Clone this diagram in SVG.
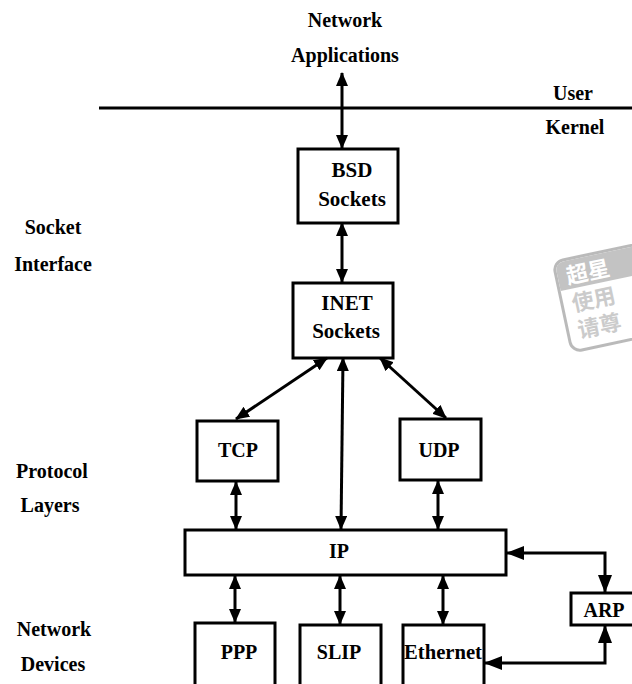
<svg xmlns="http://www.w3.org/2000/svg" width="632" height="684" viewBox="0 0 632 684">
<style>
text{font-family:"Liberation Serif","Times New Roman",serif;font-weight:bold;font-size:20px;fill:#000;text-anchor:middle}
.box{fill:#fff;stroke:#000;stroke-width:3}
.con{fill:none;stroke:#000;stroke-width:3;marker-start:url(#ah);marker-end:url(#ah)}
.con2{fill:none;stroke:#000;stroke-width:3;marker-start:url(#ahb);marker-end:url(#ahb)}
.wm{font-family:"Noto Sans CJK SC",sans-serif;font-weight:bold;font-size:22px;text-anchor:start}
</style>
<defs>
<marker id="ah" viewBox="0 0 14 12" refX="13" refY="6" markerWidth="14" markerHeight="12" markerUnits="userSpaceOnUse" orient="auto-start-reverse">
<path d="M0,0 L14,6 L0,12 z" fill="#000"/>
</marker>
<marker id="ahb" viewBox="0 0 18 14" refX="17" refY="7" markerWidth="18" markerHeight="14" markerUnits="userSpaceOnUse" orient="auto-start-reverse">
<path d="M0,0 L18,7 L0,14 z" fill="#000"/>
</marker>
</defs>
<rect width="632" height="684" fill="#fff"/>
<g id="watermark" opacity="0.5">
<g transform="translate(553,262) rotate(-12)">
<rect x="0" y="0" width="130" height="92" rx="10" fill="#fff" stroke="#777" stroke-width="3"/>
<path d="M1.5,11 Q1.5,1.5 11,1.5 H130 V30 H1.5 z" fill="#888"/>
<text x="10" y="25" class="wm" style="fill:#fff">超星</text>
<text x="10" y="53" class="wm" style="fill:#999">使用</text>
<text x="10" y="80" class="wm" style="fill:#999">请尊</text>
</g>
</g>
<g id="user-kernel">
<line x1="99" y1="108" x2="632" y2="108" stroke="#000" stroke-width="3"/>
<text x="573" y="100">User</text>
<text x="575" y="134">Kernel</text>
</g>
<g id="labels">
<text x="53" y="234">Socket</text>
<text x="53" y="271">Interface</text>
<text x="52" y="478">Protocol</text>
<text x="50" y="512">Layers</text>
<text x="54" y="636">Network</text>
<text x="53" y="671">Devices</text>
</g>
<g id="apps">
<text x="345" y="27">Network</text>
<text x="345" y="62">Applications</text>
</g>
<g id="bsd">
<rect class="box" x="298" y="149" width="100" height="74"/>
<text x="352" y="177" style="font-size:21px">BSD</text>
<text x="352" y="206" style="font-size:21px">Sockets</text>
</g>
<g id="inet">
<rect class="box" x="293" y="283" width="100" height="75"/>
<text x="347" y="310" style="font-size:21px">INET</text>
<text x="346" y="338" style="font-size:21px">Sockets</text>
</g>
<g id="tcp">
<rect class="box" x="197" y="421" width="81" height="60"/>
<text x="238" y="457">TCP</text>
</g>
<g id="udp">
<rect class="box" x="400" y="419" width="81" height="61"/>
<text x="439" y="457">UDP</text>
</g>
<g id="ip">
<rect class="box" x="185" y="530" width="321" height="45"/>
<text x="339" y="558">IP</text>
</g>
<g id="ppp">
<rect class="box" x="195" y="623" width="80" height="70"/>
<text x="239" y="659">PPP</text>
</g>
<g id="slip">
<rect class="box" x="300" y="625" width="81" height="70"/>
<text x="339" y="659">SLIP</text>
</g>
<g id="ethernet">
<rect class="box" x="403" y="625" width="81" height="70"/>
<text x="443" y="659" textLength="78" lengthAdjust="spacingAndGlyphs">Ethernet</text>
</g>
<g id="arp">
<rect class="box" x="571" y="593" width="70" height="32"/>
<text x="604" y="617">ARP</text>
</g>
<g id="connectors">
<line class="con" x1="342" y1="73" x2="342" y2="148"/>
<line class="con" x1="342" y1="223" x2="342" y2="282"/>
<line class="con" x1="327" y1="358" x2="236" y2="419"/>
<line class="con" x1="343" y1="358" x2="341" y2="529"/>
<line class="con" x1="380" y1="358" x2="446" y2="418"/>
<line class="con" x1="236" y1="482" x2="236" y2="529"/>
<line class="con" x1="438" y1="481" x2="438" y2="529"/>
<line class="con" x1="235" y1="576" x2="235" y2="622"/>
<line class="con" x1="340" y1="576" x2="340" y2="624"/>
<line class="con" x1="443" y1="576" x2="443" y2="624"/>
<path class="con2" d="M507,553 H605 V592"/>
<path class="con2" d="M605,626 V663 H485"/>
</g>
</svg>
